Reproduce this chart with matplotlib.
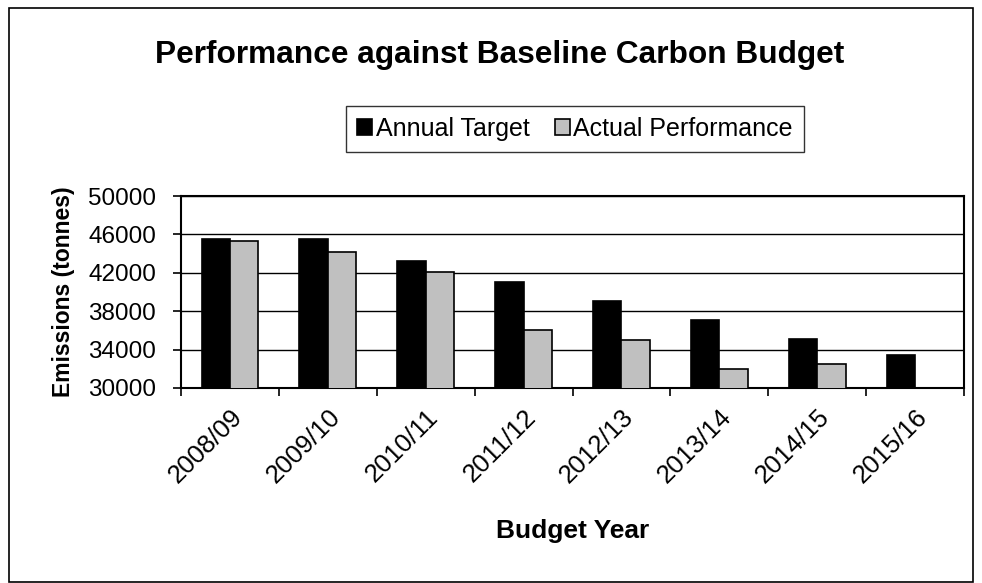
import matplotlib.pyplot as plt
import numpy as np
from matplotlib.patches import Rectangle

plt.rcParams['font.family'] = ['Liberation Sans', 'DejaVu Sans']

years = ['2008/09', '2009/10', '2010/11', '2011/12', '2012/13', '2013/14', '2014/15', '2015/16']
target = [45500, 45500, 43200, 41050, 39050, 37050, 35150, 33450]
actual = [45350, 44200, 42050, 36050, 35000, 31950, 32550, None]

fig = plt.figure(figsize=(9.82, 5.83), dpi=100)
ax = fig.add_axes([0.1843, 0.3345, 0.7974, 0.3293])

x = np.arange(len(years))
w = 0.29
ax.bar(x - w / 2, target, w, color='black', edgecolor='black', linewidth=1.2,
       label='Annual Target', zorder=3)
act_x = [xi for xi, v in zip(x, actual) if v is not None]
act_v = [v for v in actual if v is not None]
ax.bar(np.array(act_x) + w / 2, act_v, w, color='#c0c0c0', edgecolor='black',
       linewidth=1.2, label='Actual Performance', zorder=3)

ax.set_xlim(-0.5, len(years) - 0.5)
ax.set_ylim(30000, 50000)
ax.set_yticks(np.arange(30000, 50001, 4000))
ax.yaxis.grid(True, color='black', linewidth=1)
ax.set_axisbelow(True)

ax.set_xticks(np.arange(-0.5, len(years), 1))
ax.set_xticklabels([])
ax.set_xticks(x, minor=True)
ax.set_xticklabels(years, minor=True, rotation=45, ha='right', rotation_mode='anchor',
                   fontsize=18.5)
ax.tick_params(axis='x', which='minor', length=0, pad=12)
ax.tick_params(axis='x', which='major', length=6, width=1.2, direction='out')
ax.tick_params(axis='y', length=6, width=1.2, direction='out', labelsize=17.5, pad=12)
for s in ax.spines.values():
    s.set_linewidth(1.5)

ax.set_ylabel('Emissions (tonnes)', fontsize=16.5, fontweight='bold')
ax.yaxis.set_label_coords(-0.135, 0.5)
ax.set_xlabel('Budget Year', fontsize=19, fontweight='bold')
ax.xaxis.set_label_coords(0.5, -0.68)

fig.text(0.509, 0.906, 'Performance against Baseline Carbon Budget', ha='center', va='center',
         fontsize=22.8, fontweight='bold')

leg = fig.legend(loc='center', bbox_to_anchor=(0.5855, 0.779), ncol=2, fontsize=18,
                 frameon=True, fancybox=False, edgecolor='black', handlelength=0.6,
                 handleheight=0.6, handletextpad=0.15, columnspacing=1.0,
                 borderpad=0.45)
leg.get_frame().set_linewidth(1)

fig.patches.append(Rectangle((0.0092, 0.0017), 0.9817, 0.9846, transform=fig.transFigure,
                             fill=False, edgecolor='black', linewidth=1.2))

fig.savefig('out.png', dpi=100)
